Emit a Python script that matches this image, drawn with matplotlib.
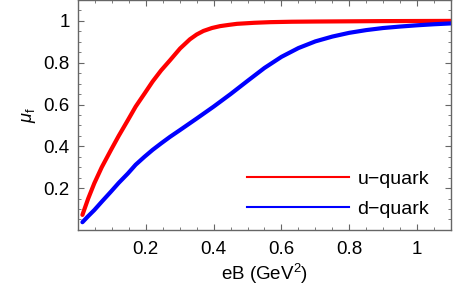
import numpy as np
import matplotlib.pyplot as plt
from matplotlib.lines import Line2D
from matplotlib.ticker import MultipleLocator

plt.rcParams['font.family'] = ['Liberation Sans', 'DejaVu Sans']
plt.rcParams['mathtext.fontset'] = 'custom'
plt.rcParams['mathtext.it'] = 'Liberation Sans:italic'
plt.rcParams['mathtext.rm'] = 'Liberation Sans'

# values
eB_u = [0.013, 0.03, 0.048, 0.07, 0.097, 0.12, 0.147, 0.17, 0.196, 0.22, 0.245, 0.271,
        0.301, 0.33, 0.35, 0.37, 0.395, 0.419, 0.445, 0.469, 0.52, 0.567, 0.63, 0.7, 0.8,
        0.9, 1.0, 1.1]
mu_u = [0.072, 0.15, 0.223, 0.30, 0.382, 0.45, 0.525, 0.59, 0.652, 0.71, 0.763, 0.811,
        0.868, 0.912, 0.935, 0.952, 0.966, 0.975, 0.981, 0.986, 0.991, 0.994, 0.996,
        0.997, 0.998, 0.999, 0.9995, 1.0]

eB_d = [0.013, 0.03, 0.048, 0.07, 0.097, 0.12, 0.147, 0.17, 0.196, 0.22, 0.245, 0.271,
        0.30, 0.35, 0.40, 0.45, 0.50, 0.55, 0.60, 0.65, 0.70, 0.75, 0.80, 0.85, 0.90,
        0.95, 1.0, 1.05, 1.1]
mu_d = [0.037, 0.066, 0.095, 0.135, 0.183, 0.225, 0.270, 0.312, 0.350, 0.383, 0.414,
        0.445, 0.477, 0.533, 0.590, 0.650, 0.713, 0.775, 0.828, 0.870, 0.902, 0.925,
        0.943, 0.956, 0.966, 0.973, 0.979, 0.984, 0.988]

labels = ['u\u2212quark', 'd\u2212quark']
colors = ['#ff0000', '#0000ff']


def main():
    fig = plt.figure(figsize=(4.63, 2.86), dpi=100)
    ax = fig.add_axes([0.1685, 0.196, 0.8055, 0.804])

    ax.plot(eB_u, mu_u, color=colors[0], lw=3.0, solid_capstyle='round')
    ax.plot(eB_d, mu_d, color=colors[1], lw=3.0, solid_capstyle='round')

    ax.set_xlim(0, 1.1)
    ax.set_ylim(0, 1.1)
    ax.set_xticks([0.2, 0.4, 0.6, 0.8, 1.0])
    ax.set_xticklabels(['0.2', '0.4', '0.6', '0.8', '1'])
    ax.set_yticks([0.2, 0.4, 0.6, 0.8, 1.0])
    ax.set_yticklabels(['0.2', '0.4', '0.6', '0.8', '1'])
    ax.xaxis.set_minor_locator(MultipleLocator(0.05))
    ax.yaxis.set_minor_locator(MultipleLocator(0.05))
    ax.tick_params(which='both', direction='in', top=True, right=True,
                   color='#666666', labelsize=13.5)
    ax.tick_params(axis='x', which='major', pad=8)
    ax.tick_params(axis='y', which='major', pad=6)
    ax.tick_params(which='major', length=4, width=0.8)
    ax.tick_params(which='minor', length=2, width=0.6)
    for s in ax.spines.values():
        s.set_color('#666666')
        s.set_linewidth(1.0)

    ax.set_xlabel('eB (GeV$^2$)', fontsize=13.5, labelpad=3)
    ax.set_ylabel(r'$\mu_{\rm f}$', fontsize=13, labelpad=4)

    handles = [Line2D([], [], color=c, lw=1.5) for c in colors]
    ax.legend(handles, labels, loc='lower left', bbox_to_anchor=(0.431, 0.018),
              frameon=False, fontsize=14, handlelength=5.25, handletextpad=0.46,
              labelspacing=0.66, borderaxespad=0)

    fig.savefig('out.png', dpi=100)


if __name__ == '__main__':
    main()
